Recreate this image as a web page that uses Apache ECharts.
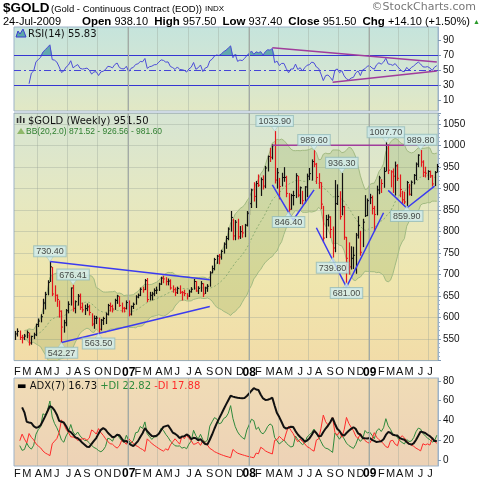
<!DOCTYPE html>
<html>
<head>
<meta charset="utf-8">
<script src="https://cdn.jsdelivr.net/npm/echarts@6/dist/echarts.min.js"></script>
<style>
  html, body { margin: 0; padding: 0; background: #fff; }
  #chart { width: 480px; height: 480px; }
</style>
</head>
<body>
<div id="chart"></div>
<script>
// weekly bars, the first one is the week ending 27-Jan-2006
const firstWeek = '2006-01-27'

const highs = [
  // 2006
  569, 575, 570, 560, 562, 570, 565, 558, 565, 586, 598, 608, 644, 660, 687, 730.4, 718, 675, 654, 640,
  617, 595, 620, 638, 670, 676.41, 640, 655, 656, 635, 630, 633, 630, 610, 605, 604, 600, 597, 602, 612,
  632, 635, 630, 644, 653, 650, 635, 625, 640,
  // 2007
  640, 628, 635, 652, 656, 670, 672, 690, 692, 660, 660, 668, 672, 681, 695, 697, 694, 691, 689, 675,
  670, 672, 675, 662, 665, 657, 665, 671, 690, 685, 673, 685, 680, 672, 678, 708, 721, 739, 746, 748,
  758, 775, 790, 810, 848, 830, 827, 830, 813, 815, 818, 848,
  // 2008
  870, 900, 915, 918, 933, 926, 931, 953, 977, 995, 1003, 1033.9, 948, 925, 937, 950, 930, 890, 888, 895,
  936, 930, 905, 895, 906, 935, 948, 968, 989.6, 960, 936, 915, 860, 839, 840, 836, 812, 920, 910, 894,
  936.3, 860, 788, 775, 766, 765, 797, 836, 802, 830, 885, 877,
  // 2009
  888, 884, 860, 907, 930, 922, 950, 1007.7, 1003, 943, 947, 963, 957, 933, 895, 893, 918, 911, 919, 934,
  961, 980, 989.8, 966, 951, 943, 942, 932, 941, 957.5
]
const lows = [
  // 2006
  548, 556, 548, 540, 548, 552, 535, 537, 550, 557, 578, 589, 608, 619, 652, 683, 650, 637, 625, 600,
  542.27, 565, 580, 610, 628, 614, 610, 628, 618, 612, 606, 615, 605, 580, 574, 585, 563.5, 570, 583, 585,
  605, 614, 612, 618, 632, 625, 612, 612, 619,
  // 2007
  603, 605, 620, 630, 645, 650, 658, 664, 636, 640, 640, 650, 655, 662, 676, 680, 675, 675, 665, 658,
  650, 655, 655, 640, 650, 642, 648, 658, 665, 660, 655, 660, 648, 655, 660, 672, 703, 710, 725, 724,
  735, 749, 760, 780, 800, 780, 780, 782, 783, 786, 787, 812,
  // 2008
  838, 855, 870, 855, 904, 883, 898, 901, 940, 962, 968, 912, 900, 875, 905, 916, 880, 846.4, 851, 861,
  878, 880, 864, 863, 866, 880, 920, 919, 950, 911, 900, 852, 775, 785, 812, 785, 739.8, 752, 862, 828,
  838, 781, 681, 700, 712, 713, 702, 784, 744, 764, 834, 836,
  // 2009
  864, 840, 800, 838, 887, 890, 902, 940, 934, 903, 890, 884, 918, 880, 864, 864, 859.9, 884, 883, 910,
  920, 950, 951, 927, 926, 920, 925, 905, 906, 937.4
]
const closes = [
  // 2006
  562, 568, 554, 553, 557, 565, 541, 556, 560, 584, 592, 602, 634, 654, 682, 718, 655, 652, 642, 615,
  578, 588, 616, 631, 669, 621, 637, 650, 624, 618, 621, 625, 612, 585, 598, 599, 573, 594, 598, 608,
  628, 626, 620, 640, 650, 628, 622, 621, 635,
  // 2007
  608, 626, 631, 648, 652, 666, 665, 686, 642, 652, 655, 663, 664, 678, 692, 690, 684, 685, 669, 665,
  658, 668, 659, 658, 656, 650, 660, 666, 684, 662, 668, 679, 655, 669, 673, 704, 714, 735, 743, 741,
  754, 771, 784, 806, 833, 790, 822, 788, 800, 797, 815, 843,
  // 2008
  865, 897, 882, 912, 908, 921, 906, 948, 975, 973, 1000, 920, 937, 905, 926, 926, 889, 852, 884, 884,
  930, 885, 902, 872, 904, 929, 935, 963, 957, 926, 914, 864, 785, 828, 834, 805, 762, 865, 882, 835,
  858, 787, 738, 718, 738, 745, 792, 814, 752, 822, 837, 872,
  // 2009
  879, 854, 840, 897, 925, 912, 940, 1001, 943, 939, 929, 953, 924, 898, 874, 869, 914, 887, 915, 931,
  957, 978, 962, 938, 936, 940, 930, 911, 937.4, 951.5
]

// labelled highs and lows: [week index, price]
const peakLabels = [[15, 730.40], [25, 676.41], [112, 1033.90], [129, 989.60], [141, 936.30], [160, 1007.70], [175, 989.80]]
const troughLabels = [[20, 542.27], [36, 563.50], [118, 846.40], [137, 739.80], [143, 681.00], [169, 859.90]]

// drawn trendlines: [week index, price] pairs
const blueLines = [
  [[15, 730.4], [84, 688]],
  [[20, 542.27], [84, 626]],
  [[111, 909], [120, 827], [129, 897]],
  [[130, 809], [143, 671], [159, 844]],
  [[161, 896], [169, 855], [181, 906]]
]
const resistLine = [[111, 1001], [177, 1001]]
const rsiLines = [
  [[111, 79.7], [182, 60.5]],
  [[137, 33.6], [182, 48.6]]
]

const rsiTicks = [10, 30, 50, 70, 90]
const adxTicks = [0, 20, 40, 60, 80]
const monthLetters = ['J', 'F', 'M', 'A', 'M', 'J', 'J', 'A', 'S', 'O', 'N', 'D']

// category dates, one per week
const dates = []
const d0 = new Date(firstWeek + 'T00:00:00Z')
for (let i = 0; i < closes.length; i++) {
  dates.push(new Date(d0.getTime() + i * 7 * 86400000).toISOString().slice(0, 10))
}
const monthOf = (i) => parseInt(dates[i].slice(5, 7)) - 1
const isMonthStart = (i) => i > 0 && monthOf(i) !== monthOf(i - 1)
const yearStarts = dates.filter((d, i) => isMonthStart(i) && monthOf(i) === 0)

// indicators computed from the bars
function calcRsi(c, n) {
  const out = c.map(() => null)
  let ag = 0, al = 0
  for (let i = 1; i < c.length; i++) {
    const d = c[i] - c[i - 1]
    const k = Math.min(i, n)
    ag = (ag * (k - 1) + Math.max(d, 0)) / k
    al = (al * (k - 1) + Math.max(-d, 0)) / k
    if (i >= 6) out[i] = al === 0 ? 100 : 100 - 100 / (1 + ag / al)
  }
  return out
}

function calcAdx(h, l, c, n) {
  const adx = [null], pdi = [null], mdi = [null]
  let tr = 0, pdm = 0, mdm = 0, ax = 0
  for (let i = 1; i < c.length; i++) {
    const up = h[i] - h[i - 1], dn = l[i - 1] - l[i]
    const t = Math.max(h[i] - l[i], Math.abs(h[i] - c[i - 1]), Math.abs(l[i] - c[i - 1]))
    const k = Math.min(i, n)
    tr = (tr * (k - 1) + t) / k
    pdm = (pdm * (k - 1) + (up > dn && up > 0 ? up : 0)) / k
    mdm = (mdm * (k - 1) + (dn > up && dn > 0 ? dn : 0)) / k
    const p = 100 * pdm / tr, m = 100 * mdm / tr
    const dx = p + m === 0 ? 0 : 100 * Math.abs(p - m) / (p + m)
    ax = (ax * (k - 1) + dx) / k
    pdi.push(i >= 2 ? p : null)
    mdi.push(i >= 2 ? m : null)
    adx.push(i >= 3 ? ax : null)
  }
  return { adx, pdi, mdi }
}

function calcBB(c, n, mult) {
  const mid = [], up = [], low = []
  for (let i = 0; i < c.length; i++) {
    const w = c.slice(Math.max(0, i - n + 1), i + 1)
    if (w.length < 5) { mid.push(null); up.push(null); low.push(null); continue }
    const m = w.reduce((a, b) => a + b, 0) / w.length
    const sd = Math.sqrt(w.reduce((a, b) => a + (b - m) * (b - m), 0) / w.length)
    mid.push(m); up.push(m + mult * sd); low.push(m - mult * sd)
  }
  return { mid, up, low }
}

const rsi = calcRsi(closes, 14)
const dmi = calcAdx(highs, lows, closes, 7)
const bb = calcBB(closes, 20, 2)

const chart = echarts.init(document.getElementById('chart'))

const grad = (stops) => new echarts.graphic.LinearGradient(0, 0, 0, 1,
  stops.map((c, i) => ({ offset: i / (stops.length - 1), color: c })))

const gridLine = 'rgba(150,160,150,0.35)'
const yearLine = { silent: true, symbol: 'none', label: { show: false },
  lineStyle: { color: '#a3aaa6', width: 1, type: 'solid' },
  data: yearStarts.map((d) => ({ xAxis: d })) }

const xAxisBase = (gridIndex, showLabels, margin) => ({
  type: 'category',
  gridIndex,
  data: dates,
  boundaryGap: true,
  axisLine: { show: false },
  axisTick: { show: false },
  axisLabel: {
    show: showLabels,
    margin,
    fontSize: 11,
    fontFamily: 'Liberation Sans',
    color: '#111',
    interval: (i) => isMonthStart(i),
    formatter: (v) => {
      const m = parseInt(v.slice(5, 7)) - 1
      return m === 0 ? '{y|' + v.slice(2, 4) + '}' : monthLetters[m]
    },
    rich: { y: { fontWeight: 'bold', fontSize: 12, fontFamily: 'Liberation Sans', color: '#000' } }
  },
  splitLine: {
    show: true,
    interval: (i) => isMonthStart(i) && monthOf(i) % 3 === 0,
    lineStyle: { color: gridLine, width: 1 }
  }
})

const rightAxis = {
  position: 'right',
  axisLine: { show: true, lineStyle: { color: '#9db3c9' } },
  axisLabel: { margin: 5, fontSize: 10, fontFamily: 'Liberation Sans', color: '#111' }
}

const option = {
  animation: false,
  backgroundColor: '#ffffff',
  grid: [
    { left: 14, top: 27, width: 424, height: 84, show: true, borderColor: '#9db3c9', borderWidth: 1,
      backgroundColor: grad(['#c5e4dc', '#d3e6d4', '#e2e8c4']) },
    { left: 14, top: 113, width: 424, height: 247.6, show: true, borderColor: '#9db3c9', borderWidth: 1,
      backgroundColor: grad(['#d6e5d4', '#e5e8c2', '#efe6ae', '#f2dca8']) },
    { left: 14, top: 378, width: 424, height: 89, show: true, borderColor: '#9db3c9', borderWidth: 1,
      backgroundColor: grad(['#f0dcb6', '#edd2b6']) }
  ],
  xAxis: [xAxisBase(0, false, 0), xAxisBase(1, true, 6), xAxisBase(2, true, 2)],
  yAxis: [
    {
      ...rightAxis, type: 'value', gridIndex: 0, min: -4.7, max: 107.3,
      splitLine: { show: false },
      axisTick: { show: true, length: 3, customValues: rsiTicks, lineStyle: { color: '#7d98b3' } },
      axisLabel: { ...rightAxis.axisLabel, customValues: rsiTicks }
    },
    {
      ...rightAxis, type: 'value', gridIndex: 1, min: 500, max: 1076, interval: 50,
      splitLine: { show: true, lineStyle: { color: gridLine } },
      axisTick: { show: true, length: 3, lineStyle: { color: '#7d98b3' } },
      minorTick: { show: true, splitNumber: 5, length: 2, lineStyle: { color: '#9db3c9' } },
      axisLabel: { ...rightAxis.axisLabel, formatter: (v) => (v % 50 === 0 && v > 500 ? v : '') }
    },
    {
      ...rightAxis, type: 'value', gridIndex: 2, min: -6, max: 83,
      splitLine: { show: false },
      axisTick: { show: true, length: 3, customValues: adxTicks, lineStyle: { color: '#7d98b3' } },
      axisLabel: { ...rightAxis.axisLabel, customValues: adxTicks }
    }
  ],
  series: [
    // ---- RSI panel
    {
      name: 'rsiBase', type: 'line', xAxisIndex: 0, yAxisIndex: 0, stack: 'ob',
      data: rsi.map((v) => (v == null ? null : 70)), symbol: 'none',
      lineStyle: { width: 0, opacity: 0 }, silent: true
    },
    {
      name: 'rsiOver', type: 'line', xAxisIndex: 0, yAxisIndex: 0, stack: 'ob',
      data: rsi.map((v) => (v == null ? null : Math.max(v - 70, 0))), symbol: 'none',
      lineStyle: { width: 0, opacity: 0 }, areaStyle: { color: '#4f9ea6', opacity: 0.85 }, silent: true
    },
    {
      name: 'RSI', type: 'line', xAxisIndex: 0, yAxisIndex: 0, data: rsi, symbol: 'none',
      lineStyle: { color: '#4d4dd8', width: 1 }, z: 4,
      markLine: {
        silent: true, symbol: 'none', label: { show: false },
        data: [
          { yAxis: 70, lineStyle: { color: '#3535d2', width: 1, type: 'solid' } },
          { yAxis: 30, lineStyle: { color: '#3535d2', width: 1, type: 'solid' } },
          { yAxis: 50, lineStyle: { color: '#4545d6', width: 1, type: [7, 3, 2, 3] } },
          ...yearLine.data.map((d) => ({ ...d, lineStyle: yearLine.lineStyle }))
        ]
      }
    },
    ...rsiLines.map((pts) => ({
      type: 'line', xAxisIndex: 0, yAxisIndex: 0, data: pts, symbol: 'none', z: 5,
      lineStyle: { color: '#a03c9c', width: 1.5 }
    })),

    // ---- price panel
    {
      name: 'bbLow', type: 'line', xAxisIndex: 1, yAxisIndex: 1, stack: 'bb', data: bb.low, symbol: 'none',
      lineStyle: { color: '#a2ba82', width: 1 }, silent: true, z: 1
    },
    {
      name: 'bbSpan', type: 'line', xAxisIndex: 1, yAxisIndex: 1, stack: 'bb',
      data: bb.up.map((v, i) => (v == null ? null : v - bb.low[i])), symbol: 'none',
      lineStyle: { color: '#a2ba82', width: 1 }, areaStyle: { color: 'rgba(120,155,60,0.3)' }, silent: true, z: 1
    },
    {
      name: 'bbMid', type: 'line', xAxisIndex: 1, yAxisIndex: 1, data: bb.mid, symbol: 'none',
      lineStyle: { color: '#8fae74', width: 1, type: [2, 2] }, silent: true, z: 1,
      markLine: yearLine
    },
    {
      name: 'GOLD', type: 'custom', xAxisIndex: 1, yAxisIndex: 1, z: 3,
      data: closes.map((c, i) => [i, highs[i], lows[i], c]),
      encode: { x: 0, y: [1, 2] },
      renderItem: (params, api) => {
        const i = api.value(0)
        const hi = api.coord([i, api.value(1)])
        const lo = api.coord([i, api.value(2)])
        const cl = api.coord([i, api.value(3)])
        const x = Math.round(hi[0]) + 0.5
        const color = i > 0 && closes[i] < closes[i - 1] ? '#e3161c' : '#111111'
        return {
          type: 'group',
          children: [
            { type: 'line', shape: { x1: x, y1: hi[1], x2: x, y2: lo[1] }, style: { stroke: color, lineWidth: 1.2 } },
            { type: 'line', shape: { x1: x, y1: cl[1], x2: x + 1.5, y2: cl[1] }, style: { stroke: color, lineWidth: 1 } }
          ]
        }
      }
    },
    ...blueLines.map((pts) => ({
      type: 'line', xAxisIndex: 1, yAxisIndex: 1, data: pts, symbol: 'none', z: 6,
      lineStyle: { color: '#3b3bf0', width: 1.5 }
    })),
    {
      type: 'line', xAxisIndex: 1, yAxisIndex: 1, data: resistLine, symbol: 'none', z: 6,
      lineStyle: { color: '#a03c9c', width: 1.5 }
    },
    {
      name: 'peaks', type: 'scatter', xAxisIndex: 1, yAxisIndex: 1, data: peakLabels, z: 8,
      symbol: 'triangle', symbolRotate: 180, symbolSize: [7, 5], symbolOffset: [0, -2.5],
      itemStyle: { color: '#d3eeee', borderColor: '#93bcbc', borderWidth: 0.5 },
      label: {
        show: true, position: 'top', distance: 0,
        formatter: (p) => p.value[1].toFixed(2),
        fontSize: 9, fontFamily: 'Liberation Sans', color: '#1a1a1a',
        backgroundColor: '#d3eeee', borderColor: '#93bcbc', borderWidth: 1, padding: [1, 2, 0, 2]
      }
    },
    {
      name: 'troughs', type: 'scatter', xAxisIndex: 1, yAxisIndex: 1, data: troughLabels, z: 8,
      symbol: 'triangle', symbolSize: [7, 5], symbolOffset: [0, 2.5],
      itemStyle: { color: '#d3eeee', borderColor: '#93bcbc', borderWidth: 0.5 },
      label: {
        show: true, position: 'bottom', distance: 0,
        formatter: (p) => p.value[1].toFixed(2),
        fontSize: 9, fontFamily: 'Liberation Sans', color: '#1a1a1a',
        backgroundColor: '#d3eeee', borderColor: '#93bcbc', borderWidth: 1, padding: [1, 2, 0, 2]
      }
    },

    // ---- ADX panel
    {
      name: '+DI', type: 'line', xAxisIndex: 2, yAxisIndex: 2, data: dmi.pdi, symbol: 'none',
      lineStyle: { color: '#2f8a3c', width: 1 },
      markLine: yearLine
    },
    {
      name: '-DI', type: 'line', xAxisIndex: 2, yAxisIndex: 2, data: dmi.mdi, symbol: 'none',
      lineStyle: { color: '#ff2a2a', width: 1 }
    },
    {
      name: 'ADX', type: 'line', xAxisIndex: 2, yAxisIndex: 2, data: dmi.adx, symbol: 'none',
      lineStyle: { color: '#111111', width: 2 }
    }
  ],
  graphic: [
    { type: 'text', left: 3, top: 1, style: { text: '$GOLD', font: 'bold 13.5px "Liberation Sans"', fill: '#000' } },
    { type: 'text', left: 51, top: 4, style: { text: '(Gold - Continuous Contract (EOD))', font: '9.5px "Liberation Sans"', fill: '#000' } },
    { type: 'text', left: 205, top: 5, style: { text: 'INDX', font: '8px "Liberation Sans"', fill: '#000' } },
    { type: 'text', right: 4, top: 2, style: { text: '©StockCharts.com', font: '11px "DejaVu Sans"', fill: '#777' } },
    { type: 'text', left: 3, top: 16, style: { text: '24-Jul-2009', font: '11px "Liberation Sans"', fill: '#000' } },
    {
      type: 'text', left: 82, top: 16,
      style: {
        text: '{b|Open} 938.10  {b|High} 957.50  {b|Low} 937.40  {b|Close} 951.50  {b|Chg} +14.10 (+1.50%) {g|▲}',
        font: '11px "Liberation Sans"', fill: '#000',
        rich: { b: { fontWeight: 'bold', fontSize: 11.5, fontFamily: 'Liberation Sans' }, g: { fill: '#2a9a2a', fontSize: 7 } }
      }
    },
    // RSI header
    { type: 'polygon', shape: { points: [[16, 37], [18, 31], [20, 34], [23, 29], [26, 37]] },
      style: { fill: '#5aa8a8', stroke: '#3a3ad0', lineWidth: 1 } },
    { type: 'text', left: 28, top: 29, style: { text: 'RSI(14) 55.83', font: '10px "DejaVu Sans"', fill: '#111' } },
    // price header
    { type: 'text', left: 16, top: 116, style: { text: 'ılı', font: 'bold 9px "DejaVu Sans"', fill: '#333' } },
    { type: 'text', left: 28, top: 116, style: { text: '$GOLD (Weekly) 951.50', font: '10px "DejaVu Sans"', fill: '#111' } },
    { type: 'polygon', shape: { points: [[17, 134], [21, 128], [25, 134]] }, style: { fill: '#8fb86a' } },
    { type: 'text', left: 26, top: 127, style: { text: 'BB(20,2.0) 871.52 - 926.56 - 981.60', font: '8.5px "Liberation Sans"', fill: '#2f7f2f' } },
    // ADX header
    {
      type: 'text', left: 17, top: 381,
      style: {
        text: '{k|▬} ADX(7) 16.73 {g|+DI 22.82} {r|-DI 17.88}',
        font: '10px "DejaVu Sans"', fill: '#111',
        rich: { k: { fill: '#000' }, g: { fill: '#2f8a3c' }, r: { fill: '#ff2a2a' } }
      }
    }
  ]
}

chart.setOption(option)
window.addEventListener('resize', () => chart.resize())
</script>
</body>
</html>
